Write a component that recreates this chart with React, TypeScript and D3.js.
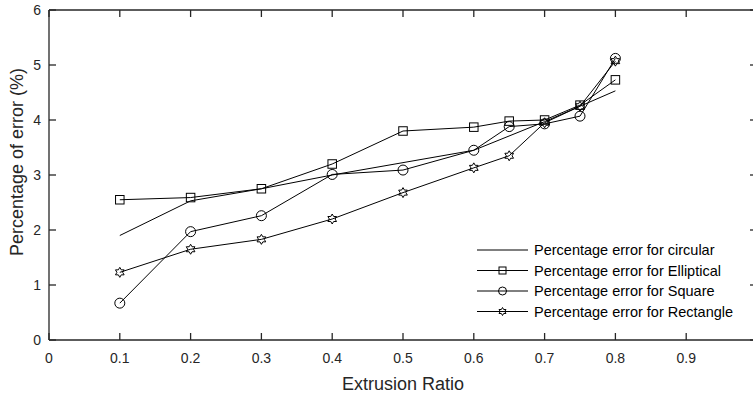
import React from "react";
import * as d3 from "d3";

const xCircular = [0.1, 0.2, 0.3, 0.4, 0.6, 0.7, 0.8];
const yCircular = [1.9, 2.53, 2.75, 3.0, 3.45, 3.97, 4.53];

const xShapes = [0.1, 0.2, 0.3, 0.4, 0.5, 0.6, 0.65, 0.7, 0.75, 0.8];
const yElliptical = [2.55, 2.59, 2.75, 3.2, 3.8, 3.87, 3.98, 4.0, 4.27, 4.73];
const ySquare = [0.67, 1.97, 2.26, 3.01, 3.09, 3.45, 3.88, 3.93, 4.07, 5.12];
const yRectangle = [1.23, 1.65, 1.83, 2.2, 2.68, 3.13, 3.35, 3.95, 4.25, 5.07];

const xTicks = [0, 0.1, 0.2, 0.3, 0.4, 0.5, 0.6, 0.7, 0.8, 0.9];
const xTickLabels = ["0", "0.1", "0.2", "0.3", "0.4", "0.5", "0.6", "0.7", "0.8", "0.9"];
const yTicks = [0, 1, 2, 3, 4, 5, 6];

const legendLabels = [
  "Percentage error for circular",
  "Percentage error for Elliptical",
  "Percentage error for Square",
  "Percentage error for Rectangle",
];

const W = 753;
const H = 397;
const left = 49;
const right = 757;
const top = 10;
const bottom = 340;
const axisColor = "#262626";
const font = "'Liberation Sans', Arial, Helvetica, sans-serif";

function Marker({ type, x, y, s }: { type: string; x: number; y: number; s: number }) {
  if (type === "square") {
    return <rect x={x - s / 2} y={y - s / 2} width={s} height={s} fill="none" stroke="#000" strokeWidth={1} />;
  }
  if (type === "circle") {
    return <circle cx={x} cy={y} r={s / 2} fill="none" stroke="#000" strokeWidth={1} />;
  }
  if (type === "hex") {
    const R = s / 2;
    const r = R * 0.577;
    const pts: string[] = [];
    for (let i = 0; i < 12; i++) {
      const a = (Math.PI / 6) * i - Math.PI / 2;
      const rr = i % 2 === 0 ? R : r;
      pts.push(`${x + rr * Math.cos(a)},${y + rr * Math.sin(a)}`);
    }
    return <polygon points={pts.join(" ")} fill="none" stroke="#000" strokeWidth={1} />;
  }
  return null;
}

export default function App() {
  const xs = d3.scaleLinear().domain([0, 1]).range([left, right]);
  const ys = d3.scaleLinear().domain([0, 6]).range([bottom, top]);
  const line = d3
    .line<[number, number]>()
    .x((d) => xs(d[0]))
    .y((d) => ys(d[1]));

  const series = [
    { xs: xCircular, ys: yCircular, marker: "none" },
    { xs: xShapes, ys: yElliptical, marker: "square" },
    { xs: xShapes, ys: ySquare, marker: "circle" },
    { xs: xShapes, ys: yRectangle, marker: "hex" },
  ];
  const markerSize: Record<string, number> = { square: 8.5, circle: 10, hex: 10 };
  const legendMarkerSize: Record<string, number> = { square: 7, circle: 8, hex: 8 };

  const tickLen = 7;

  return (
    <svg width={W} height={H} style={{ position: "absolute", left: 0, top: 0, background: "#fff" }}>
      <rect x={0} y={0} width={W} height={H} fill="#fff" />
      {series.map((s, i) => {
        const pts = s.xs.map((xv, j) => [xv, s.ys[j]] as [number, number]);
        return (
          <g key={i}>
            <path d={line(pts) || ""} fill="none" stroke="#000" strokeWidth={1} />
            {s.marker !== "none" &&
              pts.map((p, j) => (
                <Marker key={j} type={s.marker} x={xs(p[0])} y={ys(p[1])} s={markerSize[s.marker]} />
              ))}
          </g>
        );
      })}
      <g stroke={axisColor} strokeWidth={1.3} fill="none">
        <line x1={left} y1={bottom} x2={right} y2={bottom} />
        <line x1={left} y1={top} x2={right} y2={top} />
        <line x1={left} y1={top} x2={left} y2={bottom} />
        <line x1={right} y1={top} x2={right} y2={bottom} />
        {xTicks.map((t, i) => (
          <g key={"xt" + i}>
            <line x1={xs(t)} y1={bottom} x2={xs(t)} y2={bottom - tickLen} />
            <line x1={xs(t)} y1={top} x2={xs(t)} y2={top + tickLen} />
          </g>
        ))}
        {yTicks.map((t, i) => (
          <g key={"yt" + i}>
            <line x1={left} y1={ys(t)} x2={left + tickLen} y2={ys(t)} />
            <line x1={right} y1={ys(t)} x2={right - tickLen} y2={ys(t)} />
          </g>
        ))}
      </g>
      <g fontFamily={font} fontSize={14} fill={axisColor}>
        {xTicks.map((t, i) => (
          <text key={"xl" + i} x={xs(t)} y={bottom + 23} textAnchor="middle">
            {xTickLabels[i]}
          </text>
        ))}
        {yTicks.map((t, i) => (
          <text key={"yl" + i} x={left - 8} y={ys(t) + 5} textAnchor="end">
            {t}
          </text>
        ))}
      </g>
      <text x={(left + right) / 2} y={390} textAnchor="middle" fontFamily={font} fontSize={18} fill={axisColor}>
        Extrusion Ratio
      </text>
      <text
        transform={`translate(23,${162}) rotate(-90)`}
        textAnchor="middle"
        fontFamily={font}
        fontSize={18}
        fill={axisColor}
      >
        Percentage of error (%)
      </text>
      <g>
        {series.map((s, i) => {
          const ly = 250 + i * 20.5;
          return (
            <g key={"lg" + i}>
              <line x1={477} y1={ly} x2={528} y2={ly} stroke="#000" strokeWidth={1} />
              {s.marker !== "none" && <Marker type={s.marker} x={502.5} y={ly} s={legendMarkerSize[s.marker]} />}
              <text x={534} y={ly + 5} fontFamily={font} fontSize={14.5} fill="#000">
                {legendLabels[i]}
              </text>
            </g>
          );
        })}
      </g>
    </svg>
  );
}
